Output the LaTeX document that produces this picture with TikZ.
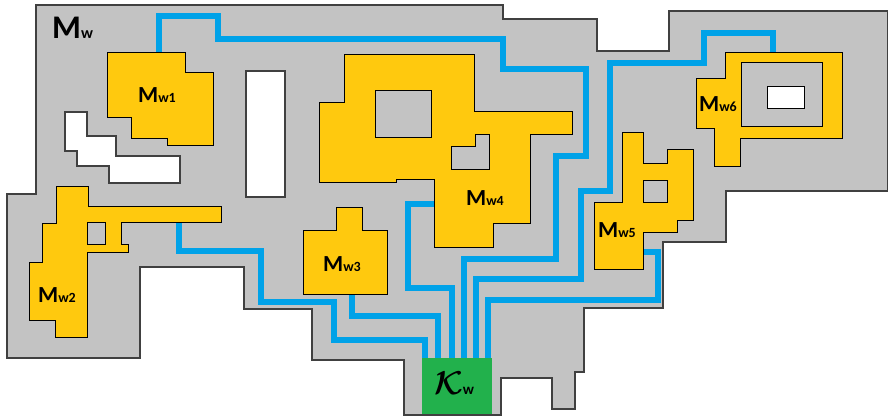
\documentclass[tikz,border=0pt]{standalone}
\usepackage{fontspec}
\setmainfont{Carlito}
\usepackage{tikz}

\definecolor{floorgray}{RGB}{195,195,195}
\definecolor{wallgray}{RGB}{64,64,64}
\definecolor{roomyellow}{RGB}{255,201,14}
\definecolor{pipeblue}{RGB}{0,162,232}
\definecolor{hubgreen}{RGB}{34,177,76}

\newcommand{\roomlabel}[1]{{\fontsize{23}{23}\selectfont\bfseries M}{\fontsize{14}{14}\selectfont\bfseries #1}}

\begin{document}
\begin{tikzpicture}[x=1pt, y=-1pt]
\tikzstyle{floorplan} = [fill=floorgray, draw=wallgray, line width=1.2pt]
\tikzstyle{hole} = [fill=white, draw=wallgray, line width=1.2pt]
\tikzstyle{room} = [fill=roomyellow, draw=black, line width=1pt]
\tikzstyle{inner} = [fill=floorgray, draw=black, line width=1pt]
\tikzstyle{pipe} = [draw=pipeblue, line width=5.5pt, line join=miter]
\tikzstyle{lbl} = [inner sep=0pt, anchor=base west]
\useasboundingbox (0,0) rectangle (889,416);

% Floor
\draw [floorplan] (36,5) -- (503,5) -- (503,19) -- (597,19) -- (597,51) -- (669,51) -- (669,11) -- (887.5,11) -- (887.5,191) -- (726,191) -- (726,242) -- (663,242) -- (663,308) -- (584,308) -- (584,372) -- (575,372) -- (575,409) -- (552,409) -- (552,378) -- (501,378) -- (501,415) -- (404,415) -- (404,360) -- (312,360) -- (312,309) -- (244,309) -- (244,267) -- (140,267) -- (140,358) -- (7,358) -- (7,194) -- (36,194) -- cycle;
\draw [hole] (246,71) rectangle (285,197);
\draw [hole] (65,112) -- (87,112) -- (87,136) -- (116,136) -- (116,156) -- (180,156) -- (180,183) -- (109,183) -- (109,166) -- (77,166) -- (77,151) -- (65,151) -- cycle;

% Pipes
\draw [pipe] (159,52) -- (159,16) -- (218,16) -- (218,39) -- (503,39) -- (503,69) -- (586,69) -- (586,156) -- (556,156) -- (556,259) -- (464,259) -- (464,362);
\draw [pipe] (179,222) -- (179,251) -- (261,251) -- (261,302) -- (334,302) -- (334,340) -- (425,340) -- (425,362);
\draw [pipe] (352,294) -- (352,316) -- (438,316) -- (438,362);
\draw [pipe] (434,204) -- (408,204) -- (408,288) -- (452,288) -- (452,362);
\draw [pipe] (773,52) -- (773,33) -- (704,33) -- (704,63) -- (610,63) -- (610,191) -- (581,191) -- (581,279) -- (476,279) -- (476,362);
\draw [pipe] (643,252) -- (658,252) -- (658,300) -- (488,300) -- (488,362);

% Rooms
\draw [room] (107,52) -- (185,52) -- (185,72) -- (213,72) -- (213,145) -- (167,145) -- (167,138) -- (131,138) -- (131,117) -- (107,117) -- cycle;
\draw [room] (56,186) -- (88,186) -- (88,206) -- (221,206) -- (221,222) -- (121,222) -- (121,244) -- (128,244) -- (128,252) -- (87,252) -- (87,337) -- (55,337) -- (55,320) -- (29,320) -- (29,262) -- (42,262) -- (42,223) -- (56,223) -- cycle;
\draw [inner] (87,222) rectangle (105,244);
\draw [room] (336,207) -- (362,207) -- (362,230) -- (387,230) -- (387,294) -- (303,294) -- (303,230) -- (336,230) -- cycle;
\draw [room] (344,54) -- (474,54) -- (474,111) -- (572,111) -- (572,134) -- (530,134) -- (530,223) -- (493,223) -- (493,247) -- (434,247) -- (434,179) -- (396,179) -- (396,182) -- (319,182) -- (319,102) -- (344,102) -- cycle;
\draw [inner] (375,90) rectangle (431,137);
\draw [inner] (451,146) -- (475,146) -- (475,134) -- (489,134) -- (489,169) -- (451,169) -- cycle;
\draw [room] (622,132) -- (643,132) -- (643,163) -- (667,163) -- (667,149) -- (693,149) -- (693,220) -- (677,220) -- (677,232) -- (643,232) -- (643,269) -- (594,269) -- (594,202) -- (622,202) -- cycle;
\draw [inner] (643,180) rectangle (667,202);
\draw [room] (725,52) -- (842,52) -- (842,138) -- (740,138) -- (740,166) -- (714,166) -- (714,128) -- (696,128) -- (696,78) -- (725,78) -- cycle;
\draw [inner] (741,62) rectangle (822,126);
\draw [hole, draw=black, line width=1pt] (767,86) rectangle (804,108);

% Hub
\fill [hubgreen] (422,358) rectangle (492,414.4);

% Labels
\node (mw) [lbl] at (52,38) {{\fontsize{33}{33}\selectfont\bfseries M}{\fontsize{16}{16}\selectfont\bfseries w}};
\node (mw1) [lbl] at (138,102) {\roomlabel{w1}};
\node (mw2) [lbl] at (38,302) {\roomlabel{w2}};
\node (mw3) [lbl] at (323,271) {\roomlabel{w3}};
\node (mw4) [lbl] at (466,205) {\roomlabel{w4}};
\node (mw5) [lbl] at (598,237) {\roomlabel{w5}};
\node (mw6) [lbl] at (699,111) {\roomlabel{w6}};
\node (kw) [lbl] at (434,394) {\scalebox{3.3}{\boldmath$\mathcal{K}$}{\fontsize{15}{15}\selectfont\bfseries w}};

\end{tikzpicture}
\end{document}
